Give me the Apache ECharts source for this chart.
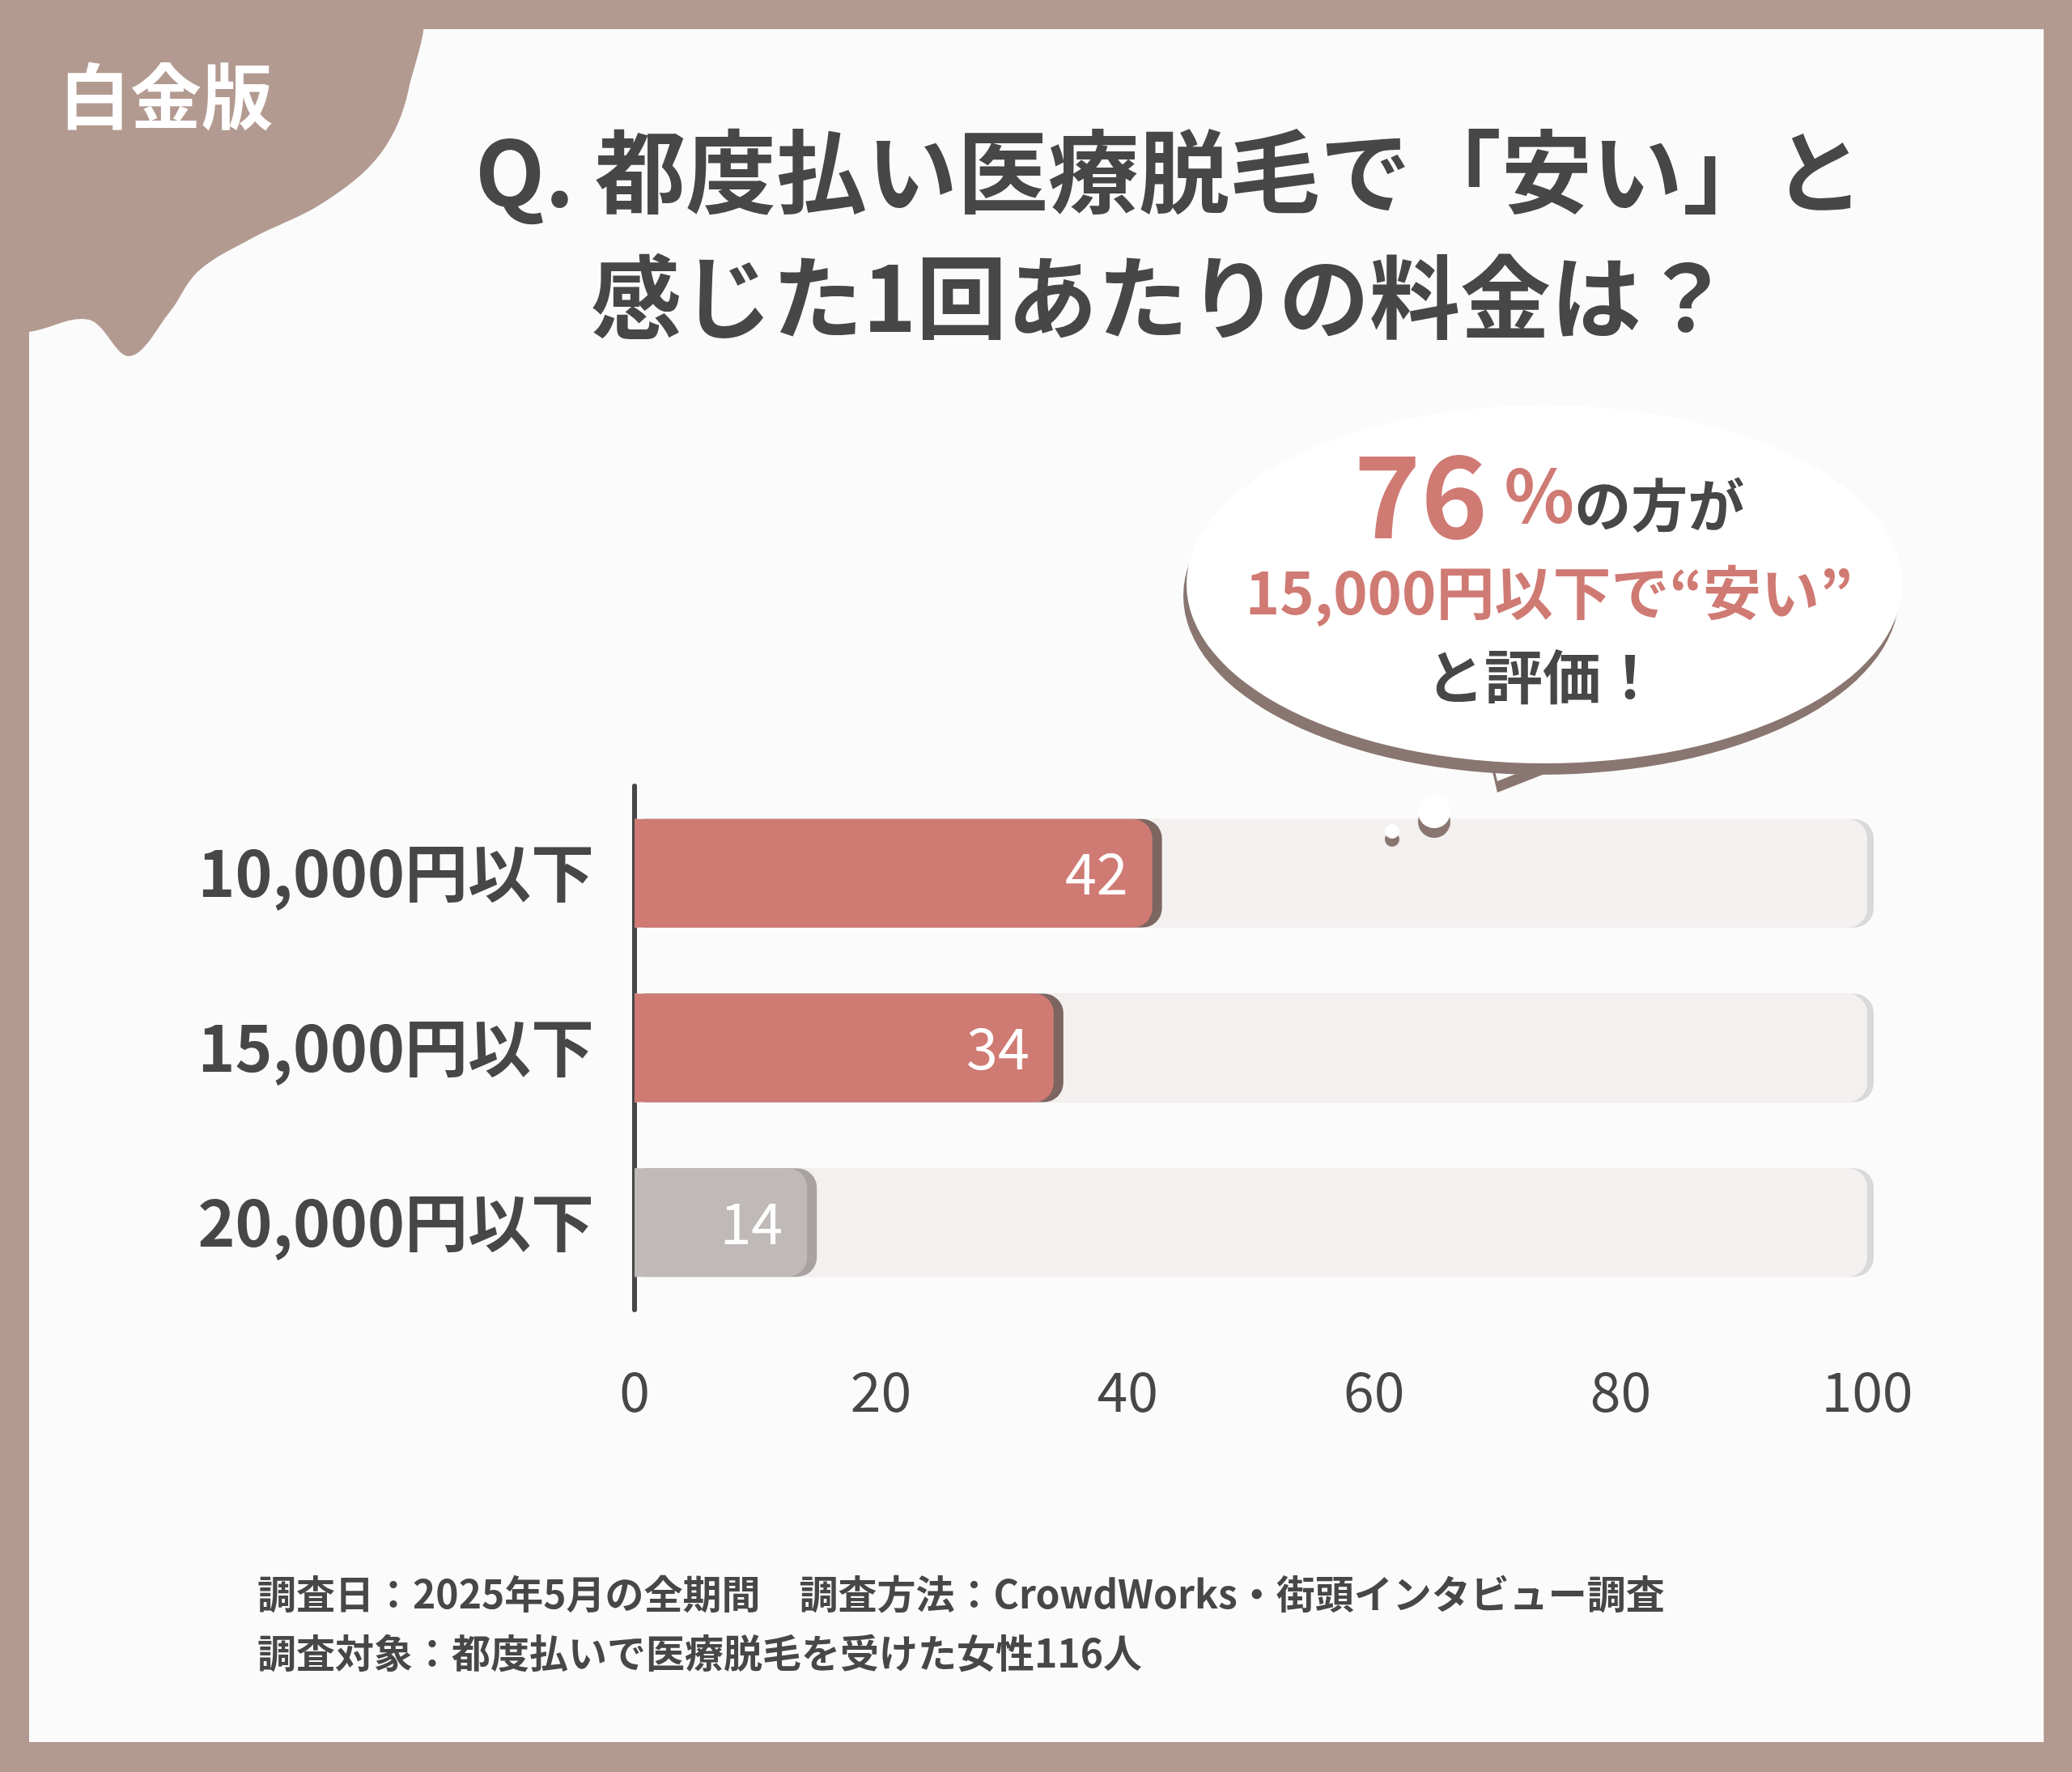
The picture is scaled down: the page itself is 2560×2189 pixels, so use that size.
<!DOCTYPE html>
<html>
<head>
<meta charset="utf-8">
<script src="https://cdn.jsdelivr.net/npm/echarts@6/dist/echarts.min.js"></script>
<style>html,body{margin:0;padding:0;}#chart{width:2560px;height:2189px;}</style>
</head>
<body>
<div id="chart"></div>
<script>
const categories = ['10,000円以下', '15,000円以下', '20,000円以下'];
const values = [42, 34, 14];
const fullValues = [100, 100, 100];
const barColors = ['#d07a74', '#d07a74', '#bfb9b8'];
const xTicks = [0, 20, 40, 60, 80, 100];

const font = '"Noto Sans CJK JP", "Noto Sans", sans-serif';
const dark = '#474747';
const red = '#d07a74';

const chart = echarts.init(document.getElementById('chart'));

const option = {
    backgroundColor: '#b39a91',
    grid: { left: 784, right: 253, top: 971, height: 647 },
    xAxis: {
        type: 'value',
        min: 0,
        max: 100,
        interval: 20,
        axisLine: { show: false },
        axisTick: { show: false },
        splitLine: { show: false },
        axisLabel: { color: dark, fontSize: 68, fontFamily: font, margin: 66 }
    },
    yAxis: {
        type: 'category',
        inverse: true,
        data: categories,
        axisLine: { show: true, lineStyle: { color: dark, width: 6 } },
        axisTick: { show: false },
        axisLabel: { color: dark, fontSize: 78, fontWeight: 'bold', fontFamily: font, margin: 50 }
    },
    graphic: [
        { type: 'rect', shape: { x: 36, y: 36, width: 2489, height: 2116 }, style: { fill: '#fbfbfb' }, z: -10 },
        {
            type: 'polygon', z: -9,
            shape: {
                smooth: 0.35,
                points: [[0, 0], [510, 0], [505, 110], [470, 190], [400, 250], [310, 295], [245, 335], [210, 385], [160, 440], [110, 395], [36, 410], [0, 410]]
            },
            style: { fill: '#b39a91' }
        },
        { type: 'rect', z: -8, shape: { x: 0, y: 0, width: 36, height: 2189 }, style: { fill: '#b39a91' } },
        { type: 'rect', z: -8, shape: { x: 0, y: 0, width: 520, height: 36 }, style: { fill: '#b39a91' } },
        {
            type: 'text', left: 73, top: 75, z: 5,
            style: { text: '白金版', fill: '#ffffff', font: 'bold 88px ' + font }
        },
        {
            type: 'text', x: 1445, y: 212, z: 5,
            style: { text: 'Q. 都度払い医療脱毛で「安い」と', fill: dark, font: 'bold 112px ' + font, align: 'center', verticalAlign: 'middle' }
        },
        {
            type: 'text', x: 1435, y: 367, z: 5,
            style: { text: '感じた1回あたりの料金は？', fill: dark, font: 'bold 112px ' + font, align: 'center', verticalAlign: 'middle' }
        },
        {
            type: 'polygon', z: 3,
            shape: { points: [[1830, 880], [1850, 965], [1990, 910], [1990, 880]] },
            style: { fill: '#ffffff', shadowColor: '#8a7670', shadowOffsetY: 14, shadowBlur: 0 }
        },
        {
            type: 'circle', z: 3,
            x: 1908, y: 722, scaleY: 0.5,
            shape: { cx: 0, cy: 0, r: 442 },
            style: { fill: '#ffffff', shadowColor: '#8a7670', shadowOffsetY: 14, shadowOffsetX: -4, shadowBlur: 0 }
        },
        {
            type: 'circle', z: 3, shape: { cx: 1772, cy: 1003, r: 20 },
            style: { fill: '#ffffff', shadowColor: '#8a7670', shadowOffsetY: 12, shadowBlur: 0 }
        },
        {
            type: 'circle', z: 3, shape: { cx: 1720, cy: 1027, r: 9 },
            style: { fill: '#ffffff', shadowColor: '#8a7670', shadowOffsetY: 10, shadowBlur: 0 }
        },
        {
            type: 'text', x: 1914, y: 612, z: 5,
            style: {
                text: '{a|76}{b| %}{c|の方が}',
                align: 'center', verticalAlign: 'middle',
                rich: {
                    a: { fill: red, font: 'bold 140px ' + font },
                    b: { fill: red, font: 'bold 90px ' + font },
                    c: { fill: dark, font: 'bold 70px ' + font, padding: [24, 0, 0, 0] }
                }
            }
        },
        {
            type: 'text', x: 1914, y: 732, z: 5,
            style: { text: '15,000円以下で“安い”', fill: red, font: 'bold 72px ' + font, align: 'center', verticalAlign: 'middle' }
        },
        {
            type: 'text', x: 1906, y: 836, z: 5,
            style: { text: 'と評価！', fill: dark, font: 'bold 72px ' + font, align: 'center', verticalAlign: 'middle' }
        },
        {
            type: 'text', left: 318, top: 1932, z: 5,
            style: {
                text: '調査日：2025年5月の全期間　調査方法：CrowdWorks・街頭インタビュー調査\n調査対象：都度払いで医療脱毛を受けた女性116人',
                fill: dark, font: 'bold 48px ' + font, lineHeight: 73
            }
        }
    ],
    series: [
        {
            type: 'bar',
            data: fullValues,
            barWidth: 134,
            barGap: '-100%',
            silent: true,
            itemStyle: {
                color: '#f3f0ef',
                borderRadius: [0, 24, 24, 0],
                shadowColor: '#d9d9d9',
                shadowOffsetX: 8,
                shadowBlur: 0
            }
        },
        {
            type: 'bar',
            data: values.map((v, i) => ({ value: v, itemStyle: { color: barColors[i], shadowColor: i < 2 ? '#7d6660' : '#a8a3a2' } })),
            barWidth: 134,
            itemStyle: {
                borderRadius: [0, 24, 24, 0],
                shadowOffsetX: 12,
                shadowBlur: 0
            },
            label: {
                show: true,
                position: 'insideRight',
                distance: 30,
                color: '#ffffff',
                fontSize: 70,
                fontFamily: font
            }
        }
    ]
};

chart.setOption(option);
</script>
</body>
</html>
